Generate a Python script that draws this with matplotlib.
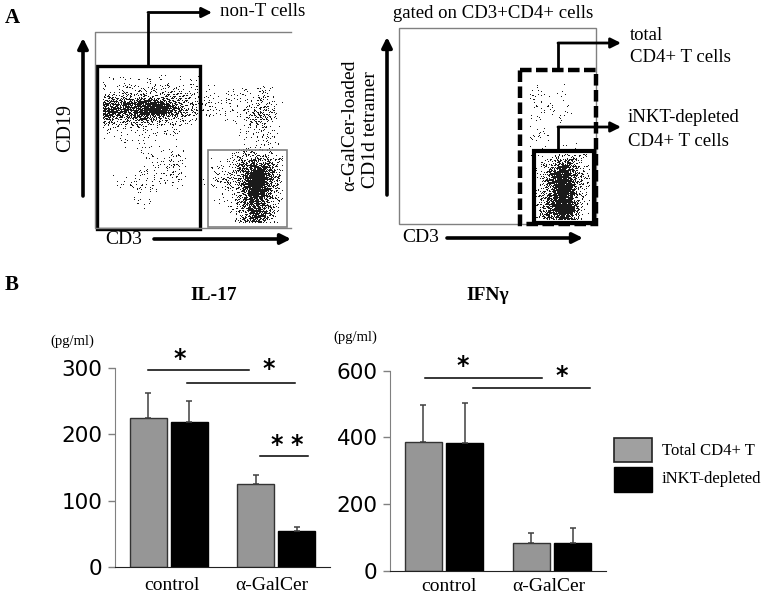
import matplotlib
matplotlib.use("Agg")
import numpy as np
import matplotlib.pyplot as plt
from matplotlib.patches import Rectangle

W, H = 765, 598
SERIF = "Liberation Serif"
GATE_GRAY = "#808080"

# panel B values
groups = ["control", "α-GalCer"]
il17_total = [225, 125]
il17_depleted = [219, 55]
il17_total_err = [37, 13]
il17_depleted_err = [31, 5]
ifng_total = [385, 82]
ifng_depleted = [384, 84]
ifng_total_err = [113, 32]
ifng_depleted_err = [119, 44]

# panel A: darkness of the dot cloud per 10 channel cell, 0 white to 9 black
cd19_cols = [8, 18, 28, 38, 48, 58, 68, 78, 88, 98, 108, 118, 128, 138, 148, 158, 168, 178, 188]
cd19_rows = [155, 145, 135, 125, 115, 105, 95, 85, 75, 65, 55, 45, 35, 25, 15, 5]
cd19_density = [
    [0, 0, 0, 0, 0, 0, 0, 0, 0, 0, 0, 0, 0, 0, 0, 0, 0, 0, 0],
    [1, 1, 1, 1, 1, 1, 1, 1, 1, 1, 0, 0, 0, 0, 0, 0, 0, 0, 0],
    [2, 2, 2, 2, 2, 2, 3, 3, 2, 2, 1, 1, 1, 1, 1, 1, 2, 1, 0],
    [6, 6, 7, 7, 8, 8, 8, 7, 5, 3, 2, 1, 1, 1, 1, 2, 3, 2, 0],
    [8, 8, 7, 7, 9, 9, 9, 6, 4, 3, 2, 1, 1, 1, 1, 3, 4, 2, 0],
    [3, 3, 3, 3, 3, 2, 2, 2, 1, 1, 0, 0, 0, 1, 1, 3, 3, 1, 0],
    [1, 1, 1, 1, 1, 1, 1, 1, 0, 0, 0, 0, 0, 0, 1, 2, 2, 1, 0],
    [0, 0, 1, 1, 1, 0, 0, 0, 0, 0, 0, 0, 0, 0, 0, 1, 2, 1, 0],
    [0, 0, 0, 0, 1, 1, 1, 1, 1, 0, 0, 0, 0, 1, 2, 3, 2, 1, 0],
    [0, 0, 0, 1, 1, 1, 1, 2, 2, 0, 0, 1, 1, 2, 5, 7, 6, 4, 2],
    [0, 0, 0, 1, 1, 1, 1, 2, 2, 0, 0, 1, 2, 3, 6, 9, 9, 6, 2],
    [0, 0, 1, 2, 1, 1, 1, 1, 1, 0, 0, 1, 2, 3, 6, 9, 9, 5, 1],
    [0, 0, 0, 1, 1, 1, 0, 0, 0, 0, 0, 0, 1, 2, 6, 9, 8, 4, 1],
    [0, 0, 0, 0, 1, 0, 0, 0, 0, 0, 0, 0, 1, 1, 5, 8, 7, 3, 1],
    [0, 0, 0, 0, 0, 0, 0, 0, 0, 0, 0, 0, 0, 1, 4, 8, 7, 3, 1],
    [0, 0, 0, 0, 0, 0, 0, 0, 0, 0, 0, 0, 0, 1, 3, 7, 6, 3, 1],
]
tet_cols = [131, 141, 151, 161, 171, 181, 191]
tet_rows = [144, 134, 124, 114, 104, 94, 84, 74, 64, 54, 44, 34, 24, 14, 4]
tet_density = [
    [0, 0, 0, 0, 0, 0, 0],
    [0, 1, 0, 1, 0, 0, 0],
    [1, 1, 1, 1, 0, 0, 0],
    [1, 1, 1, 0, 1, 0, 0],
    [1, 1, 0, 1, 0, 0, 0],
    [0, 1, 0, 0, 0, 0, 0],
    [1, 1, 1, 0, 0, 0, 0],
    [0, 0, 1, 1, 1, 1, 0],
    [0, 1, 3, 5, 5, 2, 1],
    [0, 1, 5, 8, 8, 3, 1],
    [0, 2, 6, 9, 8, 4, 1],
    [0, 2, 6, 9, 9, 3, 1],
    [0, 3, 7, 9, 8, 3, 1],
    [0, 3, 7, 9, 9, 3, 1],
    [0, 2, 6, 8, 8, 3, 1],
]


def px_axes(fig, x0, y0, x1, y1):
    # y0 is the top edge, in image pixels
    return fig.add_axes([x0 / W, 1 - y1 / H, (x1 - x0) / W, (y1 - y0) / H])


def halftone(cols, rows, density, w, h):
    # resample the cell grid to pixels, then halftone it so it reads as dots.
    # the threshold mask is a fixed texture, the only data here is the grid
    d = np.array(density, dtype=float)
    up = np.array([np.interp(np.arange(h) + 0.5, rows[::-1], c[::-1], left=0, right=0) for c in d.T]).T
    up = np.array([np.interp(np.arange(w) + 0.5, cols, r, left=0, right=0) for r in up])
    ii, jj = np.meshgrid(np.arange(w), np.arange(h))
    mask = (ii * ii * 0.3183099 + jj * jj * 0.6180339 + ii * jj * 0.4142136) % 1.0
    return (up / 9.0) ** 1.3 * 1.0 > mask


def draw_flow(fig, box, cols, rows, density):
    w, h = int(box[2] - box[0]), int(box[3] - box[1])
    ax = px_axes(fig, *box)
    ax.imshow(halftone(cols, rows, density, w, h), cmap="Greys", vmin=0, vmax=1.1,
              origin="lower", extent=(0, w, 0, h),
              interpolation="hanning", aspect="auto", zorder=1)
    ax.axis("off")
    return ax


def draw_bars(fig, box, ymax, ticks, label_x, label_pad, total, depleted, total_err, depleted_err):
    ax = px_axes(fig, *box)
    x = np.arange(len(groups))
    zeros = [0, 0]
    err_style = dict(ecolor="#404040", elinewidth=1.1, capsize=2.5, capthick=1.1)
    ax.bar(x - 0.19, total, 0.345, color="#969696", edgecolor="#333333", linewidth=1,
           yerr=[zeros, total_err], error_kw=err_style)
    ax.bar(x + 0.19, depleted, 0.345, color="black", edgecolor="black", linewidth=1,
           yerr=[zeros, depleted_err], error_kw=err_style)
    ax.set_xlim(-0.5, 1.5)
    ax.set_ylim(0, ymax)
    ax.set_yticks(ticks)
    ax.set_xticks(label_x)
    ax.set_xticklabels(groups, family=SERIF, fontsize=14)
    ax.tick_params(axis="x", length=0, pad=label_pad)
    ax.tick_params(axis="y", length=5, width=1, color=GATE_GRAY, labelsize=15.5, pad=4)
    for s in ["top", "right"]:
        ax.spines[s].set_visible(False)
    ax.spines["left"].set_color(GATE_GRAY)
    ax.spines["bottom"].set_color("#222222")
    ax.patch.set_alpha(0)
    return ax


fig = plt.figure(figsize=(W / 100, H / 100), dpi=100, facecolor="white")

draw_flow(fig, (95, 32, 291, 228), cd19_cols, cd19_rows, cd19_density)
draw_flow(fig, (399, 28, 596, 224), tet_cols, tet_rows, tet_density)
draw_bars(fig, (115, 367.7, 330, 567.3), 300, [0, 100, 200, 300], [0.03, 0.96], 7,
          il17_total, il17_depleted, il17_total_err, il17_depleted_err)
draw_bars(fig, (390, 370.7, 606, 570.7), 600, [0, 200, 400, 600], [0.05, 0.97], 5,
          ifng_total, ifng_depleted, ifng_total_err, ifng_depleted_err)

# everything drawn by hand on top goes in image pixels
ov = fig.add_axes([0, 0, 1, 1])
ov.set_xlim(0, W)
ov.set_ylim(H, 0)
ov.axis("off")
ov.patch.set_alpha(0)


def label(x, y, s, size=13.5, ha="left", weight="normal", rot=0):
    ov.text(x, y, s, family=SERIF, fontsize=size, ha=ha, va="center",
            fontweight=weight, rotation=rot)


def arrow(points, lw=2.0):
    xs = [p[0] for p in points[:-1]]
    ys = [p[1] for p in points[:-1]]
    ov.plot(xs, ys, color="black", lw=lw, solid_joinstyle="miter", solid_capstyle="butt")
    ov.annotate("", xy=points[-1], xytext=points[-2],
                arrowprops=dict(arrowstyle="-|>", color="black", lw=lw, shrinkA=0, shrinkB=0,
                                mutation_scale=15))


def box(x0, y0, x1, y1, color="black", lw=2.2, **kw):
    ov.add_patch(Rectangle((x0, y0), x1 - x0, y1 - y0, fill=False, edgecolor=color, linewidth=lw, **kw))


def sig(x0, x1, y, stars):
    ov.plot([x0, x1], [y, y], color="black", lw=1.1)
    for sx, sy in stars:
        ov.text(sx, sy + 4, "*", family="DejaVu Sans", fontsize=17, fontweight="bold",
                ha="center", va="center")


# panel A left
ov.plot([291, 95, 95, 291], [32, 32, 228, 228], color=GATE_GRAY, lw=1)
box(97.5, 66, 200, 229, lw=2.4)
box(208, 150, 287, 227, color=GATE_GRAY, lw=1.2)
arrow([(148, 66), (148, 12.5), (212, 12.5)])
arrow([(83, 196), (83, 38)], lw=2.6)
arrow([(154, 239), (291, 239)], lw=2.6)
label(5, 18, "A", size=15, weight="bold")
label(220, 11, "non-T cells", size=13.6)
label(66, 128, "CD19", size=14.5, ha="center", rot=90)
label(124, 240, "CD3", size=14, ha="center")

# panel A right
box(399, 28, 596, 224, color=GATE_GRAY, lw=1)
box(520, 69.5, 596, 224, lw=3.2, linestyle=(0, (2.6, 1.0)))
box(534, 151, 594, 223, lw=3)
arrow([(558, 69), (558, 43), (621, 43)])
arrow([(558, 151), (558, 127), (621, 127)])
arrow([(387, 195), (387, 37)], lw=2.6)
arrow([(447, 238), (583, 238)], lw=2.6)
label(393, 13, "gated on CD3+CD4+ cells", size=13.5)
label(350, 125, "α-GalCer-loaded", size=14, ha="center", rot=90)
label(371, 130, "CD1d tetramer", size=14, ha="center", rot=90)
label(421, 238, "CD3", size=14, ha="center")
label(630, 35, "total")
label(630, 57, "CD4+ T cells")
label(628, 118, "iNKT-depleted")
label(628, 141, "CD4+ T cells")

# panel B annotations
label(5, 285, "B", size=15, weight="bold")
label(214, 295, "IL-17", size=14, ha="center", weight="bold")
label(488, 295, "IFNγ", size=14, ha="center", weight="bold")
label(72, 341, "(pg/ml)", size=10.5, ha="center")
label(355, 337, "(pg/ml)", size=10.5, ha="center")
sig(148, 249, 370, [(180, 355)])
sig(187, 295, 383, [(269, 365)])
sig(260, 308, 456, [(277, 441), (297, 441)])
sig(425, 542, 378, [(463, 362)])
sig(473, 590, 388, [(562, 372)])

# legend
ov.add_patch(Rectangle((614.5, 438), 37.5, 24, facecolor="#a0a0a0", edgecolor="#222222", linewidth=1.2))
ov.add_patch(Rectangle((614, 467), 38, 25, facecolor="black", edgecolor="black", linewidth=1))
label(662, 451, "Total CD4+ T", size=12)
label(662, 479, "iNKT-depleted", size=12)

fig.savefig("out.png", dpi=100)
